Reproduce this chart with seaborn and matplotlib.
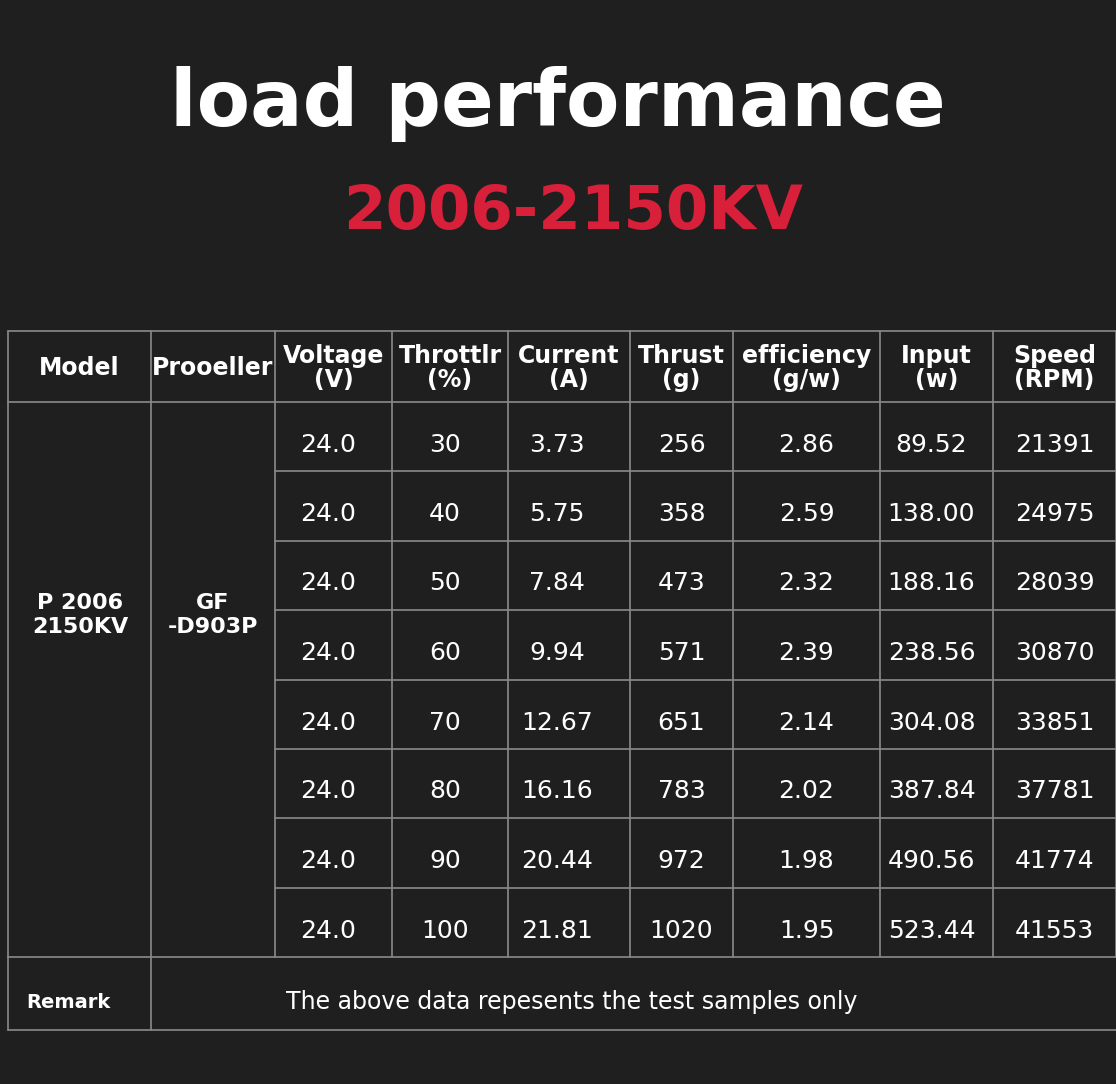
import matplotlib
matplotlib.use("Agg")
import matplotlib.pyplot as plt
import seaborn as sns

sns.set_style("dark")
plt.rcParams['font.family'] = ['DejaVu Sans']

headers = ["Model", "Prooeller", "Voltage\n(V)", "Throttlr\n(%)", "Current\n(A)", "Thrust\n(g)",
           "efficiency\n(g/w)", "Input\n(w)", "Speed\n(RPM)"]
voltage = ["24.0"] * 8
throttle = ["30", "40", "50", "60", "70", "80", "90", "100"]
current = ["3.73", "5.75", "7.84", "9.94", "12.67", "16.16", "20.44", "21.81"]
thrust = ["256", "358", "473", "571", "651", "783", "972", "1020"]
efficiency = ["2.86", "2.59", "2.32", "2.39", "2.14", "2.02", "1.98", "1.95"]
inp = ["89.52", "138.00", "188.16", "238.56", "304.08", "387.84", "490.56", "523.44"]
speed = ["21391", "24975", "28039", "30870", "33851", "37781", "41774", "41553"]
model = "P 2006\n2150KV"
prop = "GF\n-D903P"
remark = "The above data repesents the test samples only"

bg = "#1f1f1f"
fig = plt.figure(figsize=(11.16, 10.84), dpi=100, facecolor=bg)
ax = fig.add_axes([0, 0, 1, 1])
ax.set_facecolor(bg)
ax.set_xlim(0, 1116); ax.set_ylim(1084, 0); ax.axis("off")

ax.text(558, 104, "load performance", color="white", fontsize=56, fontweight="heavy",
        ha="center", va="center")
ax.text(573, 212, "2006-2150KV", color="#d8203a", fontsize=44, fontweight="heavy",
        ha="center", va="center")

xs = [8, 151, 275, 392, 508, 630, 733, 880, 993, 1116]
ys = [331, 402, 471, 541, 610, 680, 749, 818, 888, 957, 1030]
lc = "#8a8a8a"
for y in [331, 402, 957, 1030]:
    ax.plot([8, 1116], [y, y], color=lc, lw=1.2)
for y in ys[2:9]:
    ax.plot([275, 1116], [y, y], color=lc, lw=1.2)
for x in xs:
    ax.plot([x, x], [331, 957], color=lc, lw=1.2)
ax.plot([8, 8], [957, 1030], color=lc, lw=1.2)
ax.plot([151, 151], [957, 1030], color=lc, lw=1.2)

for i, h in enumerate(headers):
    cx = (xs[i] + xs[i + 1]) / 2
    ax.text(cx, 368, h, color="white", fontsize=17, fontweight="bold", ha="center",
            va="center", linespacing=1.05)

cols = [voltage, throttle, current, thrust, efficiency, inp, speed]
offs = [-5, -5, -12, 0, 0, -5, 0]
for r in range(8):
    cy = (ys[r + 1] + ys[r + 2]) / 2 + 8
    for c, col in enumerate(cols):
        cx = (xs[c + 2] + xs[c + 3]) / 2 + offs[c]
        ax.text(cx, cy, col[r], color="white", fontsize=18, ha="center", va="center")

ax.text(80, 615, model, color="white", fontsize=16, fontweight="bold", ha="center", va="center")
ax.text(213, 615, prop, color="white", fontsize=16, fontweight="bold", ha="center", va="center")
ax.text(68, 1003, "Remark", color="white", fontsize=14, fontweight="bold", ha="center", va="center")
ax.text(572, 1002, remark, color="white", fontsize=17, ha="center", va="center")

fig.savefig("out.png", dpi=100, facecolor=bg)
